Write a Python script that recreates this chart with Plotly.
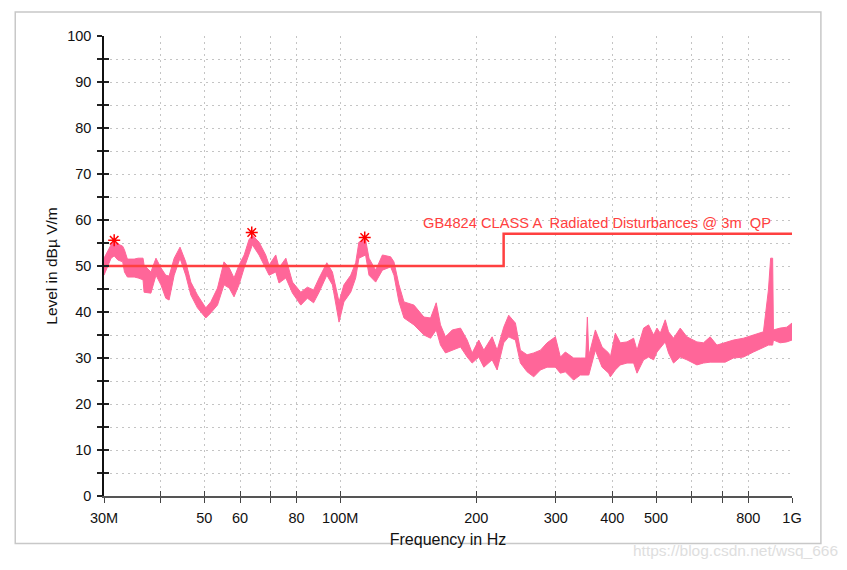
import math
import plotly.graph_objects as go

# ---- data ----
freq_mhz = [30.0, 31.1, 31.6, 32.2, 33.0, 33.3, 33.8, 35.0, 35.7, 36.6, 36.8, 38.1, 39.1, 40.1, 41.1, 41.8,
            42.9, 44.2, 45.5, 46.7, 48.3, 50.4, 51.7, 53.5, 55.3, 56.8, 58.2, 59.7, 61.3, 62.8, 63.9, 66.1,
            68.4, 69.6, 72.0, 73.2, 75.8, 78.4, 81.8, 84.6, 87.3, 89.8, 93.4, 96.1, 99.4, 101.9, 105.5, 108.2,
            110.0, 113.8, 115.8, 119.8, 124.0, 129.3, 131.5, 134.9, 138.4, 145.6, 153.2, 158.5, 163.1, 166.7,
            171.0, 177.0, 184.6, 191.0, 195.9, 202.6, 207.9, 216.9, 222.5, 230.1, 236.0, 244.2, 250.5, 259.2,
            268.1, 277.4, 287.0, 299.4, 307.1, 315.0, 328.6, 340.1, 349.5, 352.4, 355.0, 367.1, 379.8, 392.8,
            396.2, 406.4, 416.9, 431.3, 446.1, 453.9, 469.4, 481.5, 493.9, 502.5, 511.0, 524.1, 533.0, 546.7,
            565.7, 585.3, 615.9, 636.9, 659.0, 681.9, 711.4, 742.1, 780.8, 821.6, 864.5, 886.8, 896.8, 906.0,
            909.7, 941.2, 973.9, 1000.0]
level_max = [51.7, 54.6, 55.2, 54.8, 54.3, 53.5, 51.5, 51.5, 51.7, 51.7, 50.2, 48.7, 51.7, 49.6, 48.0, 47.8,
             51.7, 54.1, 50.9, 46.5, 43.7, 40.9, 42.2, 45.2, 50.9, 49.6, 47.4, 50.2, 52.4, 55.7, 56.7, 55.2,
             52.4, 50.2, 52.4, 49.6, 51.7, 46.5, 44.3, 45.4, 44.8, 47.4, 50.7, 48.7, 42.2, 45.9, 48.0, 50.7,
             55.2, 55.7, 51.7, 49.1, 52.4, 52.0, 50.9, 45.9, 42.2, 41.5, 38.9, 38.7, 42.0, 37.2,
             34.6, 36.1, 36.5, 33.9, 31.1, 33.9, 31.7, 34.6, 31.7, 36.7, 39.3, 37.6, 31.7, 30.7,
             31.1, 31.7, 33.3, 34.6, 30.2, 31.3, 30.0, 30.0, 30.0, 38.9, 30.5, 36.1, 32.4, 31.1,
             30.2, 35.4, 33.3, 33.5, 34.3, 31.7, 36.5, 37.2, 35.0, 36.5, 35.4, 38.3, 35.7, 34.3,
             36.5, 34.6, 33.5, 33.3, 34.6, 32.8, 33.3, 33.9, 34.3, 35.0, 35.7, 44.8, 51.7, 51.7,
             36.1, 36.5, 36.7, 37.6]
level_min = [48.0, 51.7, 52.2, 51.3, 50.9, 48.7, 47.6, 47.6, 47.4, 47.0, 44.3, 44.1, 48.0, 45.9, 43.0, 42.6,
             48.0, 51.7, 48.0, 43.7, 40.9, 38.7, 39.8, 41.5, 45.9, 45.2, 43.3, 45.9, 49.6, 52.4, 54.6, 52.4,
             49.6, 48.0, 48.7, 46.3, 47.4, 44.1, 41.5, 43.0, 42.0, 44.3, 48.0, 45.9, 37.8, 42.2, 44.3, 47.4,
             51.7, 52.4, 48.0, 46.5, 49.1, 49.8, 48.0, 42.2, 38.7, 37.2, 35.0, 34.3, 36.1, 32.8,
             31.1, 31.7, 32.4, 30.2, 28.9, 30.2, 28.0, 29.6, 27.4, 33.3, 34.6, 33.9, 28.9, 27.0,
             25.9, 27.4, 28.0, 28.0, 26.7, 27.0, 25.2, 26.3, 26.3, 26.3, 26.3, 31.7, 28.0, 26.7,
             25.9, 27.4, 28.5, 28.9, 28.9, 26.7, 29.6, 30.2, 29.6, 31.3, 32.2, 33.5, 31.1, 28.9,
             30.2, 29.6, 28.5, 28.9, 29.1, 29.1, 29.1, 30.0, 30.2, 31.3, 32.4, 32.8, 32.8, 32.8,
             33.9, 33.3, 33.5, 33.9]

limit_freq = [30, 230, 230, 1000]
limit_level = [50, 50, 57, 57]

peak_freq = [31.6, 63.7, 113.3]
peak_level = [55.6, 57.3, 56.2]

tick_vals = [30, 40, 50, 60, 70, 80, 100, 200, 300, 400, 500, 600, 700, 800, 1000]
tick_text = ["30M", "", "50", "60", "", "80", "100M", "200", "300", "400", "500", "", "", "800", "1G"]

limit_label = "GB4824 CLASS A  Radiated Disturbances @ 3m  QP"

PINK = "#ff6699"
RED = "#ff4040"
FONT = "Liberation Sans, Arial, sans-serif"

fig = go.Figure()
fig.add_trace(go.Scatter(x=freq_mhz, y=level_min, mode="lines",
                         line=dict(color=PINK, width=1), hoverinfo="skip", showlegend=False))
fig.add_trace(go.Scatter(x=freq_mhz, y=level_max, mode="lines", fill="tonexty", fillcolor=PINK,
                         line=dict(color=PINK, width=1), showlegend=False))
fig.add_trace(go.Scatter(x=limit_freq, y=limit_level, mode="lines",
                         line=dict(color=RED, width=2.5), showlegend=False))
fig.add_trace(go.Scatter(x=peak_freq, y=peak_level, mode="markers",
                         marker=dict(symbol="asterisk-open", size=10, color="#ff0000",
                                     line=dict(color="#ff0000", width=1.5)), showlegend=False))
# invisible trace for the overlay axes (ticks crossing the axis lines)
fig.add_trace(go.Scatter(x=[30], y=[0], xaxis="x2", yaxis="y2", mode="markers",
                         marker=dict(opacity=0), showlegend=False, hoverinfo="skip"))

xr = [math.log10(30), 3]
grid = dict(gridcolor="#c4c4c4", griddash="2px,4px", gridwidth=1)

fig.update_layout(
    width=847, height=570,
    margin=dict(l=104, r=55, t=36, b=74),
    paper_bgcolor="white", plot_bgcolor="white",
    font=dict(family=FONT, size=14.5, color="#111"),
    xaxis=dict(type="log", range=xr, tickvals=tick_vals, ticktext=tick_text,
               ticks="outside", ticklen=5, tickwidth=1.2, tickcolor="#444",
               showline=True, linecolor="#555", linewidth=2, showgrid=True, zeroline=False,
               ticklabelstandoff=3, tickfont=dict(size=14.5),
               title=dict(text="Frequency in Hz", standoff=8, font=dict(size=16)), **grid),
    xaxis2=dict(type="log", range=xr, tickvals=tick_vals, overlaying="x", anchor="y", side="bottom",
                ticks="inside", ticklen=5, tickwidth=1.2, tickcolor="#444",
                showticklabels=False, showgrid=False, showline=False, zeroline=False),
    yaxis=dict(range=[0, 100], dtick=10, ticks="outside", ticklen=5, tickwidth=1.5, tickcolor="#222",
               showline=True, linecolor="#111", linewidth=1.5, showgrid=True, zeroline=False,
               ticklabelstandoff=3, tickfont=dict(size=14.5),
               minor=dict(dtick=5, ticks="outside", ticklen=5, tickwidth=1.5, tickcolor="#222",
                          showgrid=True, **grid),
               title=dict(text="Level in dBµ V/m", standoff=6, font=dict(size=15.5)), **grid),
    yaxis2=dict(range=[0, 100], dtick=10, overlaying="y", anchor="x", side="left",
                ticks="inside", ticklen=5, tickwidth=1.5, tickcolor="#222",
                minor=dict(dtick=5, ticks="inside", ticklen=5, tickwidth=1.5, tickcolor="#222"),
                showticklabels=False, showgrid=False, showline=False, zeroline=False),
    annotations=[
        dict(text=limit_label, xref="paper", x=0.972, xanchor="right", yref="y", y=59.4,
             yanchor="middle", showarrow=False, font=dict(color=RED, size=14.7, family=FONT)),
        dict(text="https://blog.csdn.net/wsq_666", xref="paper", x=1.07, xanchor="right",
             yref="paper", y=-0.118, yanchor="middle", showarrow=False,
             font=dict(color="#dedede", size=15.5, family=FONT)),
    ],
    shapes=[dict(type="rect", xref="paper", yref="paper", x0=-0.129, x1=1.042, y0=-0.103, y1=1.052,
                 line=dict(color="#c8c8c8", width=1.5), layer="below")],
)

fig.write_html("out.html")
